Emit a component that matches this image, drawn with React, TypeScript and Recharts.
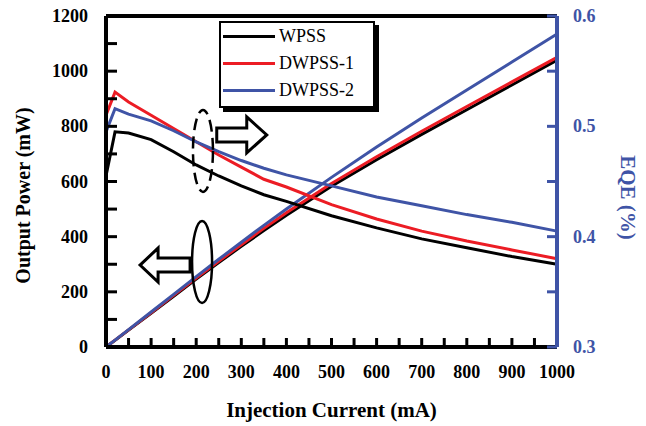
import React from 'react';
import {
  ComposedChart,
  Line,
  XAxis,
  YAxis,
  ReferenceLine,
  ReferenceDot,
  Legend,
} from 'recharts';

document.body.style.margin = '0';

// injection current (mA)
const current = [0, 20, 50, 100, 150, 200, 250, 300, 350, 400, 500, 600, 700, 800, 900, 1000];

// output power (mW)
const powerWPSS = [0, 24, 61, 122, 184, 246, 306, 365, 422, 478, 583, 679, 771, 860, 950, 1040];
const powerDW1 = [0, 25, 62, 124, 187, 250, 311, 371, 430, 487, 593, 690, 782, 872, 961, 1050];
const powerDW2 = [0, 25, 63, 127, 191, 255, 318, 380, 441, 500, 615, 725, 830, 932, 1033, 1135];

// EQE
const eqeWPSS = [0.455, 0.495, 0.494, 0.488, 0.477, 0.465, 0.455, 0.446, 0.438, 0.432, 0.419, 0.408, 0.398, 0.39, 0.382, 0.375];
const eqeDW1 = [0.51, 0.531, 0.522, 0.51, 0.498, 0.486, 0.474, 0.463, 0.452, 0.445, 0.429, 0.416, 0.405, 0.396, 0.388, 0.38];
const eqeDW2 = [0.495, 0.516, 0.511, 0.505, 0.496, 0.486, 0.477, 0.469, 0.462, 0.456, 0.446, 0.436, 0.428, 0.42, 0.413, 0.405];

const xTicks = [0, 50, 100, 150, 200, 250, 300, 350, 400, 450, 500, 550, 600, 650, 700, 750, 800, 850, 900, 950, 1000];
const leftTicks = [0, 100, 200, 300, 400, 500, 600, 700, 800, 900, 1000, 1100, 1200];
const rightTicks = [0.3, 0.35, 0.4, 0.45, 0.5, 0.55, 0.6];

const BLACK = '#000000';
const RED = '#ec1c24';
const BLUE = '#3f54a6';
const FONT = '"Liberation Serif", "Times New Roman", serif';

const series = [
  { name: 'WPSS', color: BLACK, power: powerWPSS, eqe: eqeWPSS },
  { name: 'DWPSS-1', color: RED, power: powerDW1, eqe: eqeDW1 },
  { name: 'DWPSS-2', color: BLUE, power: powerDW2, eqe: eqeDW2 },
];

const data = current.map((c, i) => {
  const row: any = { current: c };
  series.forEach((s) => {
    row['p_' + s.name] = s.power[i];
    row['e_' + s.name] = s.eqe[i];
  });
  return row;
});

// inward tick lengths (negative tickSize points them into the plot)
const X_TICK = 9;
const LEFT_TICK = 11;
const RIGHT_TICK = 10;
const LABEL_GAP = 16;

// tick labels, only on the major values
const XTick = (props: any) => {
  const v = props.payload.value;
  if (v % 100 !== 0) return <g />;
  return (
    <text x={props.x} y={Number(props.y) + 15} textAnchor="middle" fontFamily={FONT} fontWeight="bold" fontSize={18} fill={BLACK}>
      {v}
    </text>
  );
};

const LeftTick = (props: any) => {
  const v = props.payload.value;
  if (v % 200 !== 0) return <g />;
  return (
    <text x={Number(props.x) - 2} y={Number(props.y) + 6} textAnchor="end" fontFamily={FONT} fontWeight="bold" fontSize={18} fill={BLACK}>
      {v}
    </text>
  );
};

const RightTick = (props: any) => {
  const v = Math.round(props.payload.value * 100);
  if (v % 10 !== 0) return <g />;
  return (
    <text x={props.x} y={Number(props.y) + 6} textAnchor="start" fontFamily={FONT} fontWeight="bold" fontSize={18} fill={BLUE}>
      {(v / 100).toFixed(1)}
    </text>
  );
};

const LeftTitle = ({ viewBox }: any) => (
  <text
    transform={`translate(30, ${viewBox.y + viewBox.height / 2 + 14}) rotate(-90)`}
    textAnchor="middle"
    fontFamily={FONT}
    fontWeight="bold"
    fontSize={20}
    fill={BLACK}
  >
    Output Power (mW)
  </text>
);

const RightTitle = ({ viewBox }: any) => (
  <text
    transform={`translate(621, ${viewBox.y + viewBox.height / 2 + 16}) rotate(90)`}
    textAnchor="middle"
    fontFamily={FONT}
    fontWeight="bold"
    fontSize={21}
    fill={BLUE}
  >
    EQE (%)
  </text>
);

const BottomTitle = ({ viewBox }: any) => (
  <text
    x={viewBox.x + viewBox.width / 2}
    y={417}
    textAnchor="middle"
    fontFamily={FONT}
    fontWeight="bold"
    fontSize={21}
    fill={BLACK}
  >
    Injection Current (mA)
  </text>
);

const Ellipse = (dashed: boolean) => (props: any) => (
  <ellipse
    cx={props.cx}
    cy={props.cy}
    rx={10}
    ry={41}
    fill="none"
    stroke={BLACK}
    strokeWidth={2.5}
    strokeDasharray={dashed ? '12 6' : undefined}
  />
);

const ArrowRight = (props: any) => {
  const { cx, cy } = props;
  const pts = [
    [cx - 25, cy - 7],
    [cx + 5, cy - 7],
    [cx + 5, cy - 18],
    [cx + 25, cy],
    [cx + 5, cy + 18],
    [cx + 5, cy + 7],
    [cx - 25, cy + 7],
  ];
  return <polygon points={pts.map((p) => p.join(',')).join(' ')} fill="#fff" stroke={BLACK} strokeWidth={3} />;
};

const ArrowLeft = (props: any) => {
  const { cx, cy } = props;
  const pts = [
    [cx + 25, cy - 7],
    [cx - 7, cy - 7],
    [cx - 7, cy - 17],
    [cx - 25, cy],
    [cx - 7, cy + 17],
    [cx - 7, cy + 7],
    [cx + 25, cy + 7],
  ];
  return <polygon points={pts.map((p) => p.join(',')).join(' ')} fill="#fff" stroke={BLACK} strokeWidth={3} />;
};

const LegendBox = () => (
  <div
    style={{
      border: '2px solid #000',
      boxShadow: '4px 4px 0 #000',
      background: '#fff',
      width: 150,
      padding: '0 0 2px 2px',
      fontFamily: FONT,
      fontSize: 18,
      lineHeight: '27px',
    }}
  >
    {series.map((s) => (
      <div key={s.name} style={{ display: 'flex', alignItems: 'center' }}>
        <span style={{ display: 'inline-block', width: 52, height: 3, background: s.color, marginRight: 4 }} />
        <span>{s.name}</span>
      </div>
    ))}
  </div>
);

export default function App() {
  return (
    <div style={{ position: 'relative', width: 646, height: 426, background: '#fff' }}>
      <ComposedChart width={646} height={426} data={data} margin={{ top: 16, right: 0, bottom: 0, left: 0 }}>
        <XAxis
          dataKey="current"
          type="number"
          domain={[0, 1000]}
          ticks={xTicks}
          interval={0}
          height={79}
          tickSize={-X_TICK}
          tickMargin={LABEL_GAP + X_TICK}
          tickLine={{ stroke: BLACK, strokeWidth: 3 }}
          tick={XTick}
          axisLine={{ stroke: BLACK, strokeWidth: 4 }}
          label={<BottomTitle />}
        />
        <YAxis
          yAxisId="left"
          type="number"
          domain={[0, 1200]}
          ticks={leftTicks}
          interval={0}
          width={106}
          tickSize={-LEFT_TICK}
          tickMargin={LABEL_GAP + LEFT_TICK}
          tickLine={{ stroke: BLACK, strokeWidth: 3 }}
          tick={LeftTick}
          axisLine={{ stroke: BLACK, strokeWidth: 4 }}
          label={<LeftTitle />}
        />
        <YAxis
          yAxisId="right"
          orientation="right"
          type="number"
          domain={[0.3, 0.6]}
          ticks={rightTicks}
          interval={0}
          width={89}
          tickSize={-RIGHT_TICK}
          tickMargin={LABEL_GAP + RIGHT_TICK}
          tickLine={{ stroke: BLUE, strokeWidth: 3 }}
          tick={RightTick}
          axisLine={{ stroke: BLUE, strokeWidth: 4 }}
          label={<RightTitle />}
        />
        <ReferenceLine yAxisId="left" y={1200} stroke={BLACK} strokeWidth={4} ifOverflow="visible" />
        {series.map((s) => (
          <Line
            key={'p' + s.name}
            yAxisId="left"
            type="linear"
            dataKey={'p_' + s.name}
            stroke={s.color}
            strokeWidth={3}
            dot={false}
            isAnimationActive={false}
            legendType="none"
          />
        ))}
        {series.map((s) => (
          <Line
            key={'e' + s.name}
            yAxisId="right"
            type="linear"
            dataKey={'e_' + s.name}
            stroke={s.color}
            strokeWidth={3}
            dot={false}
            isAnimationActive={false}
            legendType="none"
          />
        ))}
        <ReferenceDot yAxisId="left" x={215} y={711} shape={Ellipse(true)} />
        <ReferenceDot yAxisId="left" x={301} y={769} shape={ArrowRight} />
        <ReferenceDot yAxisId="left" x={213} y={308} shape={Ellipse(false)} />
        <ReferenceDot yAxisId="left" x={131} y={297} shape={ArrowLeft} />
        <Legend
          layout="vertical"
          align="center"
          verticalAlign="middle"
          content={<LegendBox />}
          wrapperStyle={{ position: 'absolute', left: 219, top: 21, width: 160 }}
        />
      </ComposedChart>
    </div>
  );
}
